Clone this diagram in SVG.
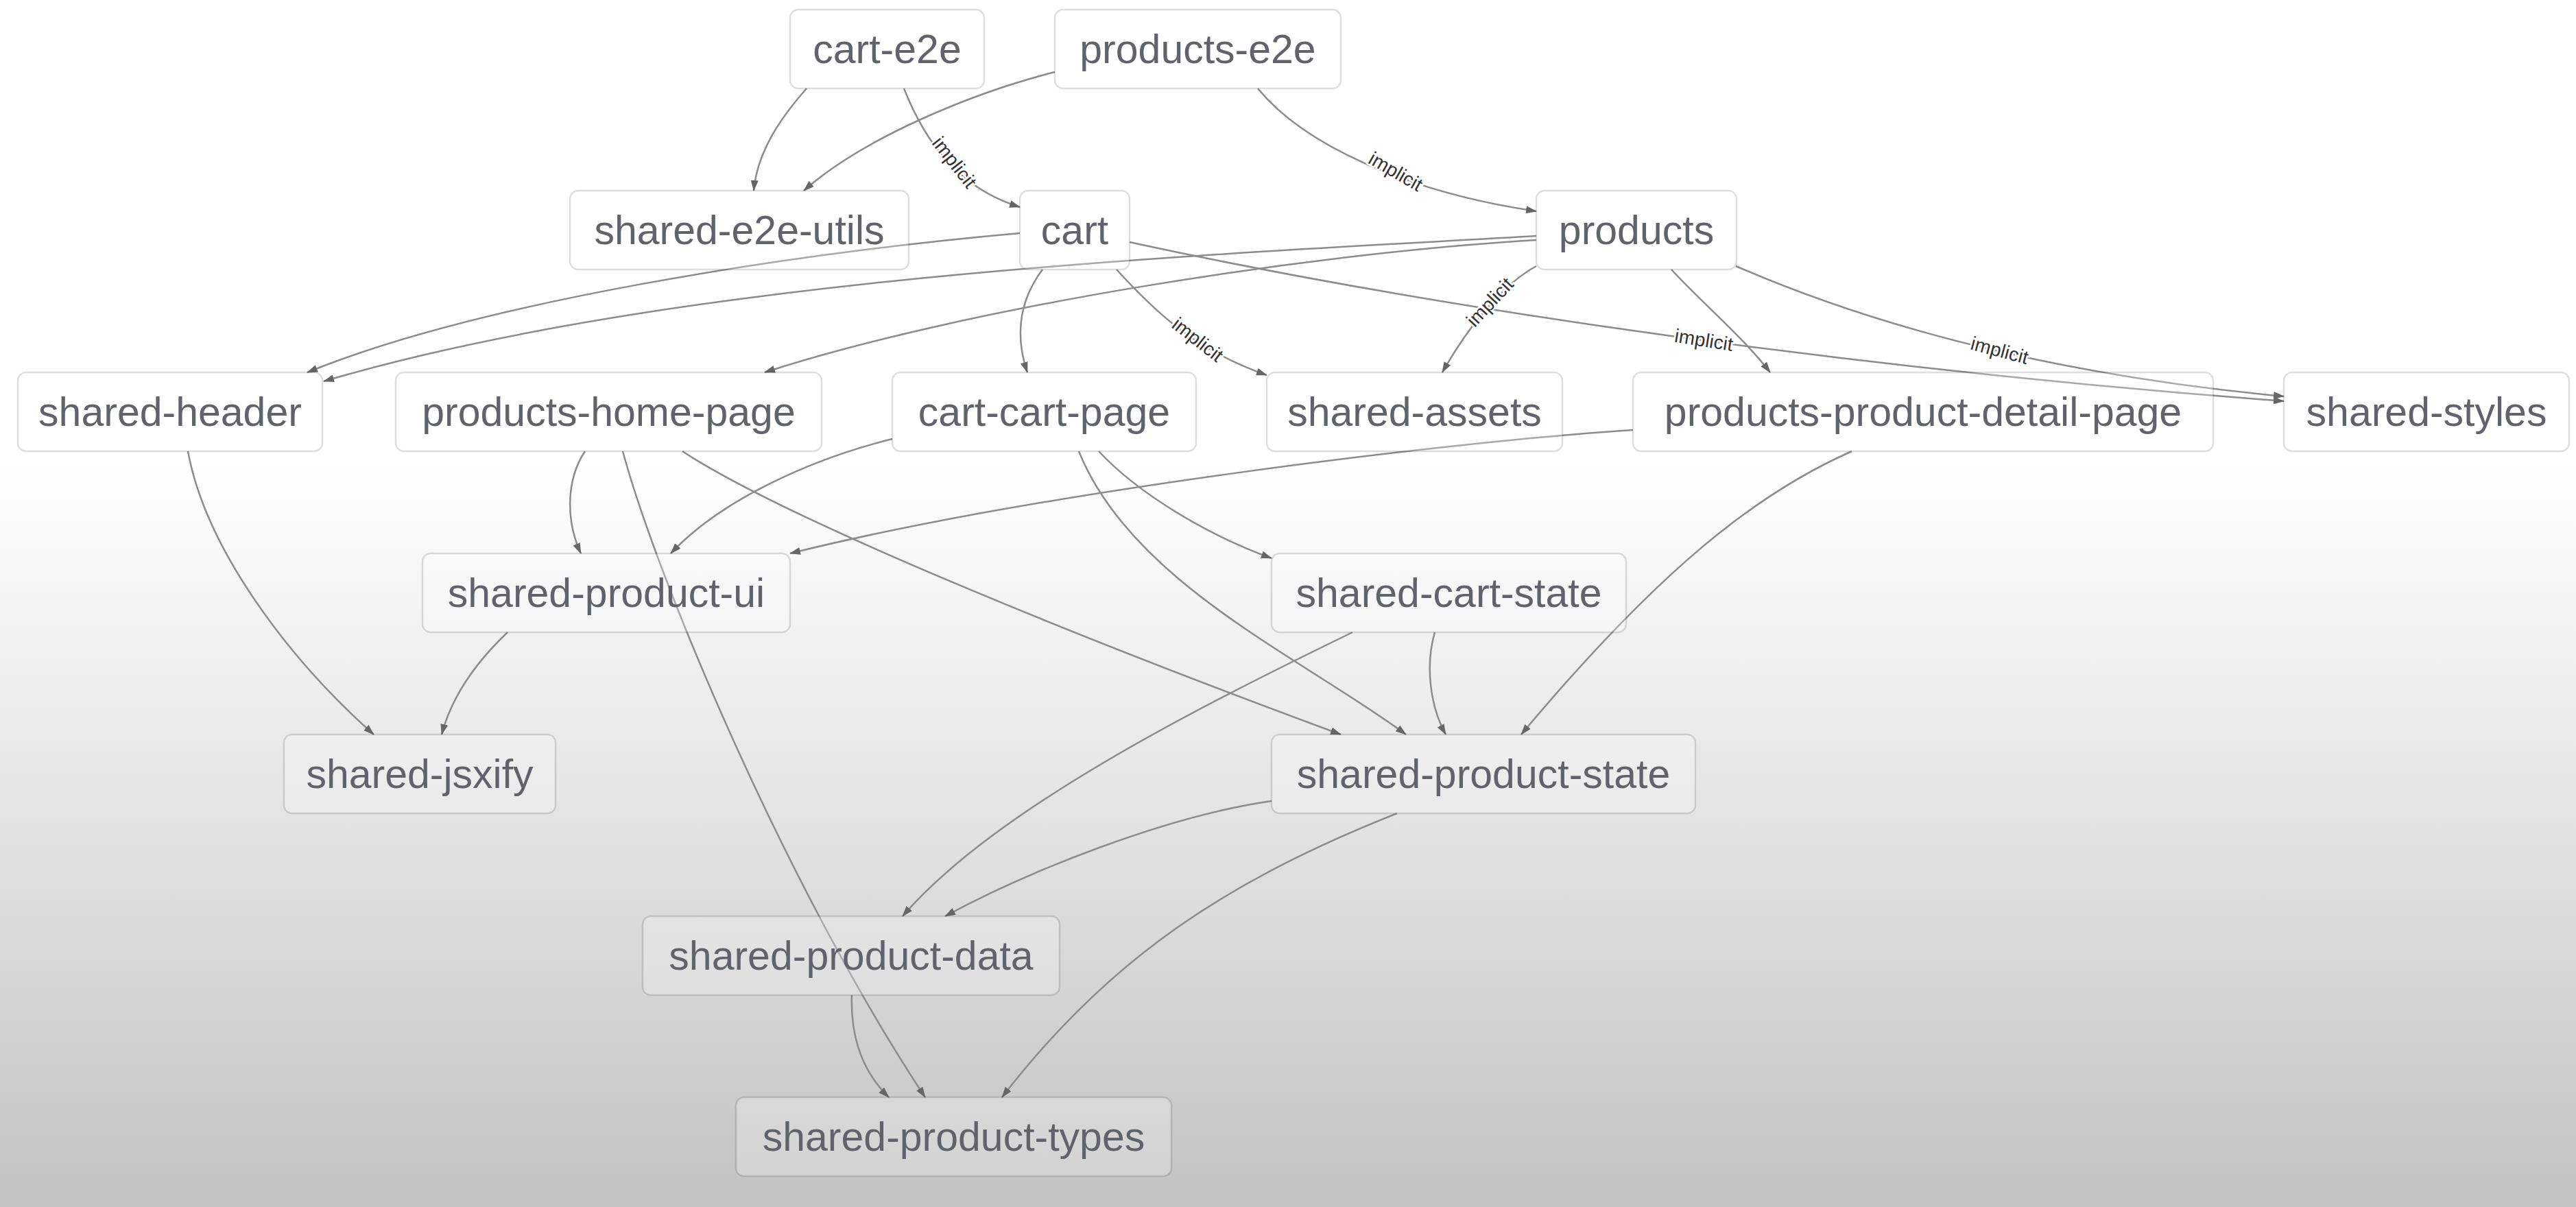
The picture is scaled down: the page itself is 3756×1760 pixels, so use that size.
<svg xmlns="http://www.w3.org/2000/svg" width="3756" height="1760" viewBox="0 0 3756 1760">
<defs>
<linearGradient id="bg" x1="0" y1="0" x2="0" y2="1">
<stop offset="0" stop-color="#ffffff"/>
<stop offset="0.38" stop-color="#ffffff"/>
<stop offset="0.62" stop-color="#e9e9e9"/>
<stop offset="1" stop-color="#c2c2c2"/>
</linearGradient>
<marker id="arr" markerUnits="userSpaceOnUse" markerWidth="16" markerHeight="11" refX="15" refY="5.5" orient="auto">
<path d="M0,0 L16,5.5 L0,11 z" fill="#666666"/>
</marker>
<style>
.n rect{fill:#ffffff;fill-opacity:0.25;stroke:#000;stroke-opacity:0.13;stroke-width:2.5}
.n text{font-family:"Liberation Sans",Arial,sans-serif;font-size:59px;fill:#606369;text-anchor:middle}
.e path{fill:none;stroke:#8c8c8c;stroke-width:2.5;marker-end:url(#arr)}
.lbl{font-family:"Liberation Sans",Arial,sans-serif;font-size:28px;fill:#333;text-anchor:middle;dominant-baseline:middle;stroke:#fff;stroke-width:5;paint-order:stroke}
</style>
</defs>
<rect width="3756" height="1760" fill="url(#bg)"/>
<g id="connectors" class="e">
<path d="M1176,129 C1140,170 1104,220 1099,278"/>
<path d="M1538,105 C1420,135 1260,200 1172,278"/>
<path d="M1318,129 C1350,210 1400,275 1487,302"/>
<path d="M1834,129 C1900,210 2050,280 2240,308"/>
<path d="M1487,340 C1150,370 700,440 448,543"/>
<path d="M2240,344 C1800,370 1000,400 472,556"/>
<path d="M2240,350 C1900,370 1400,450 1115,543"/>
<path d="M1520,393 C1485,440 1480,490 1498,543"/>
<path d="M1628,393 C1680,450 1740,510 1847,547"/>
<path d="M1647,353 C2000,430 2600,530 3330,585"/>
<path d="M2240,388 C2200,410 2150,460 2103,543"/>
<path d="M2437,393 C2480,440 2540,490 2581,543"/>
<path d="M2531,388 C2720,470 2980,545 3330,578"/>
<path d="M853,658 C825,700 825,760 847,807"/>
<path d="M908,658 C960,850 1150,1300 1349,1600"/>
<path d="M995,658 C1150,760 1600,940 1955,1071"/>
<path d="M1301,640 C1180,670 1050,730 978,807"/>
<path d="M2381,627 C2100,645 1500,720 1152,807"/>
<path d="M1602,658 C1660,720 1760,780 1854,814"/>
<path d="M1573,658 C1650,850 1900,960 2050,1071"/>
<path d="M2092,922 C2078,970 2085,1030 2108,1071"/>
<path d="M2700,658 C2560,720 2420,830 2218,1071"/>
<path d="M1972,922 C1750,1030 1450,1180 1316,1336"/>
<path d="M1854,1168 C1700,1190 1500,1270 1378,1336"/>
<path d="M2037,1186 C1796,1282 1621,1392 1461,1600"/>
<path d="M274,658 C300,800 420,960 545,1071"/>
<path d="M740,922 C700,960 660,1010 644,1071"/>
<path d="M1242,1451 C1240,1510 1255,1560 1296,1600"/>
<text class="lbl" transform="translate(1390,238) rotate(52)">implicit</text>
<text class="lbl" transform="translate(2034,252) rotate(30)">implicit</text>
<text class="lbl" transform="translate(1745,497) rotate(38)">implicit</text>
<text class="lbl" transform="translate(2174,442) rotate(-47)">implicit</text>
<text class="lbl" transform="translate(2484,498) rotate(9)">implicit</text>
<text class="lbl" transform="translate(2915,513) rotate(15)">implicit</text>
</g>
<g id="cart-e2e" class="n"><rect x="1152" y="14" width="283" height="115" rx="12"/><text x="1293.5" y="91.5">cart-e2e</text></g>
<g id="products-e2e" class="n"><rect x="1538" y="14" width="417" height="115" rx="12"/><text x="1746.5" y="91.5">products-e2e</text></g>
<g id="shared-e2e-utils" class="n"><rect x="831" y="278" width="494" height="115" rx="12"/><text x="1078" y="355.5">shared-e2e-utils</text></g>
<g id="cart" class="n"><rect x="1487" y="278" width="160" height="115" rx="12"/><text x="1567" y="355.5">cart</text></g>
<g id="products" class="n"><rect x="2240" y="278" width="292" height="115" rx="12"/><text x="2386" y="355.5">products</text></g>
<g id="shared-header" class="n"><rect x="26" y="543" width="444" height="115" rx="12"/><text x="248" y="620.5">shared-header</text></g>
<g id="products-home-page" class="n"><rect x="577" y="543" width="621" height="115" rx="12"/><text x="887.5" y="620.5">products-home-page</text></g>
<g id="cart-cart-page" class="n"><rect x="1301" y="543" width="443" height="115" rx="12"/><text x="1522.5" y="620.5">cart-cart-page</text></g>
<g id="shared-assets" class="n"><rect x="1847" y="543" width="431" height="115" rx="12"/><text x="2062.5" y="620.5">shared-assets</text></g>
<g id="products-product-detail-page" class="n"><rect x="2381" y="543" width="846" height="115" rx="12"/><text x="2804" y="620.5">products-product-detail-page</text></g>
<g id="shared-styles" class="n"><rect x="3330" y="543" width="416" height="115" rx="12"/><text x="3538" y="620.5">shared-styles</text></g>
<g id="shared-product-ui" class="n"><rect x="616" y="807" width="536" height="115" rx="12"/><text x="884" y="884.5">shared-product-ui</text></g>
<g id="shared-cart-state" class="n"><rect x="1854" y="807" width="517" height="115" rx="12"/><text x="2112.5" y="884.5">shared-cart-state</text></g>
<g id="shared-jsxify" class="n"><rect x="414" y="1071" width="396" height="115" rx="12"/><text x="612" y="1148.5">shared-jsxify</text></g>
<g id="shared-product-state" class="n"><rect x="1854" y="1071" width="618" height="115" rx="12"/><text x="2163" y="1148.5">shared-product-state</text></g>
<g id="shared-product-data" class="n"><rect x="937" y="1336" width="608" height="115" rx="12"/><text x="1241" y="1413.5">shared-product-data</text></g>
<g id="shared-product-types" class="n"><rect x="1073" y="1600" width="635" height="115" rx="12"/><text x="1390.5" y="1677.5">shared-product-types</text></g>
</svg>
